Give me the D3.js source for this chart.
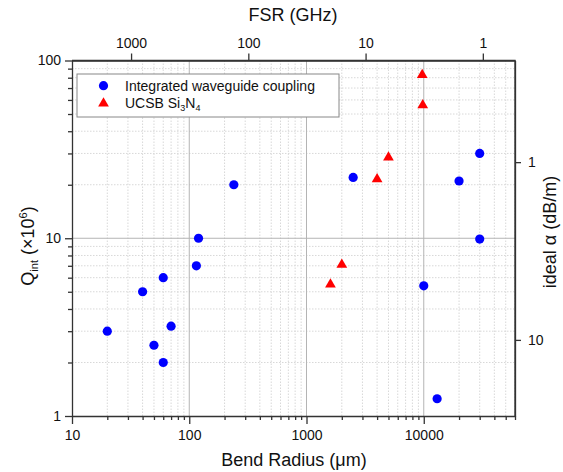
<!DOCTYPE html>
<html><head><meta charset="utf-8">
<script src="https://cdn.jsdelivr.net/npm/d3@7"></script>
<style>
body{margin:0;background:#fff;}
text{font-family:"Liberation Sans",Arial,sans-serif;fill:#111;}
</style></head>
<body>
<svg id="c" width="563" height="472"></svg>
<script>
// Data
const waveguideR = [20, 40, 60, 50, 60, 70, 115, 120, 240, 2500, 30000, 20000, 30000, 10000, 13000];
const waveguideQ = [3.0, 5.0, 6.0, 2.5, 2.0, 3.2, 7.0, 10.0, 20.0, 22.0, 30.0, 21.0, 9.9, 5.4, 1.25];
const ucsbR = [9700, 9800, 5000, 4000, 2000, 1600];
const ucsbQ = [83, 56, 28.5, 21.5, 7.1, 5.5];
const xTicks = [10, 100, 1000, 10000];
const yTicks = [1, 10, 100];
const fsrTicks = [1000, 100, 10, 1];
const alphaTicks = [1, 10];
const legendLabels = ["Integrated waveguide coupling", "UCSB Si3N4"];
const FSR_K = 31900;   // FSR(GHz) * R(um)
const ALPHA_K = 26.8;  // alpha(dB/m) * Q(1e6)

const svg = d3.select("#c");
const L = 72, R = 515, T = 60.5, B = 416;
const x = d3.scaleLog().domain([10, 60000]).range([L, R]);
const y = d3.scaleLog().domain([1, 100]).range([B, T]);
const xTop = d3.scaleLog().domain([FSR_K / 10, FSR_K / 60000]).range([L, R]);
const yRight = d3.scaleLog().domain([ALPHA_K / 1, ALPHA_K / 100]).range([B, T]);

// minor values
const xMinor = [], yMinor = [];
for (let d = 10; d < 60000; d *= 10) for (let m = 2; m <= 9; m++) { const v = d * m; if (v <= 60000) xMinor.push(v); }
for (let d = 1; d < 100; d *= 10) for (let m = 2; m <= 9; m++) yMinor.push(d * m);

// grid
const g = svg.append("g");
g.selectAll(".gxm").data(xMinor).enter().append("line")
  .attr("x1", d => x(d)).attr("x2", d => x(d)).attr("y1", T).attr("y2", B)
  .attr("stroke", "#d8d8d8").attr("stroke-width", 1).attr("stroke-dasharray", "1.5,1.5");
g.selectAll(".gym").data(yMinor).enter().append("line")
  .attr("y1", d => y(d)).attr("y2", d => y(d)).attr("x1", L).attr("x2", R)
  .attr("stroke", "#d8d8d8").attr("stroke-width", 1).attr("stroke-dasharray", "1.5,1.5");
g.selectAll(".gx").data(xTicks.filter(v => v > 10)).enter().append("line")
  .attr("x1", d => x(d)).attr("x2", d => x(d)).attr("y1", T).attr("y2", B)
  .attr("stroke", "#b4b4b4").attr("stroke-width", 1);
g.selectAll(".gy").data([10]).enter().append("line")
  .attr("y1", d => y(d)).attr("y2", d => y(d)).attr("x1", L).attr("x2", R)
  .attr("stroke", "#b4b4b4").attr("stroke-width", 1);

const axisColor = "#333";
function styleAxis(sel) {
  sel.selectAll("path,line").attr("stroke", axisColor).attr("stroke-width", 1.3);
  sel.selectAll("text").attr("font-size", 14).attr("fill", "#111")
    .style("font-family", '"Liberation Sans",Arial,sans-serif');
}

// bottom axis
const bx = svg.append("g").attr("transform", `translate(0,${B})`)
  .call(d3.axisBottom(x).tickValues(xTicks).tickFormat(d3.format("d")).tickSize(8).tickPadding(6).tickSizeOuter(0));
styleAxis(bx);
svg.append("g").attr("transform", `translate(0,${B})`)
  .call(d3.axisBottom(x).tickValues(xMinor).tickFormat("").tickSize(4).tickSizeOuter(0))
  .call(s => { s.select("path").remove(); s.selectAll("line").attr("stroke", axisColor).attr("stroke-width", 1.3); });

// left axis
const ly = svg.append("g").attr("transform", `translate(${L},0)`)
  .call(d3.axisLeft(y).tickValues(yTicks).tickFormat(d3.format("d")).tickSize(7).tickPadding(4).tickSizeOuter(0));
styleAxis(ly);
svg.append("g").attr("transform", `translate(${L},0)`)
  .call(d3.axisLeft(y).tickValues(yMinor).tickFormat("").tickSize(4).tickSizeOuter(0))
  .call(s => { s.select("path").remove(); s.selectAll("line").attr("stroke", axisColor).attr("stroke-width", 1.3); });

// top axis (FSR)
const tx = svg.append("g").attr("transform", `translate(0,${T})`)
  .call(d3.axisTop(xTop).tickValues(fsrTicks).tickFormat(d3.format("d")).tickSize(7).tickPadding(6).tickSizeOuter(0));
styleAxis(tx);

// right axis (alpha)
const ry = svg.append("g").attr("transform", `translate(${R},0)`)
  .call(d3.axisRight(yRight).tickValues(alphaTicks).tickFormat(d3.format("d")).tickSize(6).tickPadding(7).tickSizeOuter(0));
styleAxis(ry);

// titles
svg.append("text").attr("x", 294).attr("y", 466).attr("text-anchor", "middle").attr("font-size", 18)
  .text("Bend Radius (\u03bcm)");
svg.append("text").attr("x", 293).attr("y", 21).attr("text-anchor", "middle").attr("font-size", 18)
  .text("FSR (GHz)");
const lt = svg.append("text").attr("transform", "translate(34,246) rotate(-90)").attr("text-anchor", "middle").attr("font-size", 18);
lt.append("tspan").text("Q");
lt.append("tspan").attr("font-size", 11).attr("dy", 4).text("int");
lt.append("tspan").attr("dy", -4).text(" (\u00d710");
lt.append("tspan").attr("font-size", 11).attr("dy", -7).text("6");
lt.append("tspan").attr("dy", 7).text(")");
svg.append("text").attr("transform", "translate(556,232) rotate(-90)").attr("text-anchor", "middle").attr("font-size", 18)
  .text("ideal \u03b1 (dB/m)");

// data
const blue = "#0000ff", red = "#ff0000";
const wg = waveguideR.map((r, i) => ({ r, q: waveguideQ[i] }));
const uc = ucsbR.map((r, i) => ({ r, q: ucsbQ[i] }));
svg.append("g").selectAll("circle").data(wg).enter().append("circle")
  .attr("cx", d => x(d.r)).attr("cy", d => y(d.q)).attr("r", 4.6).attr("fill", blue);
const tri = d3.symbol().type(d3.symbolTriangle).size(50);
svg.append("g").selectAll("path").data(uc).enter().append("path")
  .attr("d", tri).attr("transform", d => `translate(${x(d.r)},${y(d.q)})`).attr("fill", red);

// legend
const lg = svg.append("g");
lg.append("rect").attr("x", 77).attr("y", 74).attr("width", 262).attr("height", 43)
  .attr("fill", "#fff").attr("stroke", "#888").attr("stroke-width", 1);
lg.append("circle").attr("cx", 103.5).attr("cy", 85.7).attr("r", 4.6).attr("fill", blue);
lg.append("path").attr("d", tri).attr("transform", "translate(103.5,103.5)").attr("fill", red);
lg.append("text").attr("x", 125).attr("y", 90.5).attr("font-size", 14).text(legendLabels[0]);
const l2 = lg.append("text").attr("x", 125).attr("y", 108).attr("font-size", 14);
l2.append("tspan").text("UCSB Si");
l2.append("tspan").attr("font-size", 9).attr("dy", 3).text("3");
l2.append("tspan").attr("dy", -3).text("N");
l2.append("tspan").attr("font-size", 9).attr("dy", 3).text("4");

// frame
svg.append("path").attr("d", `M${L},${T}H${R}V${B}`).attr("fill", "none").attr("stroke", axisColor).attr("stroke-width", 1.3);
</script>
</body></html>
